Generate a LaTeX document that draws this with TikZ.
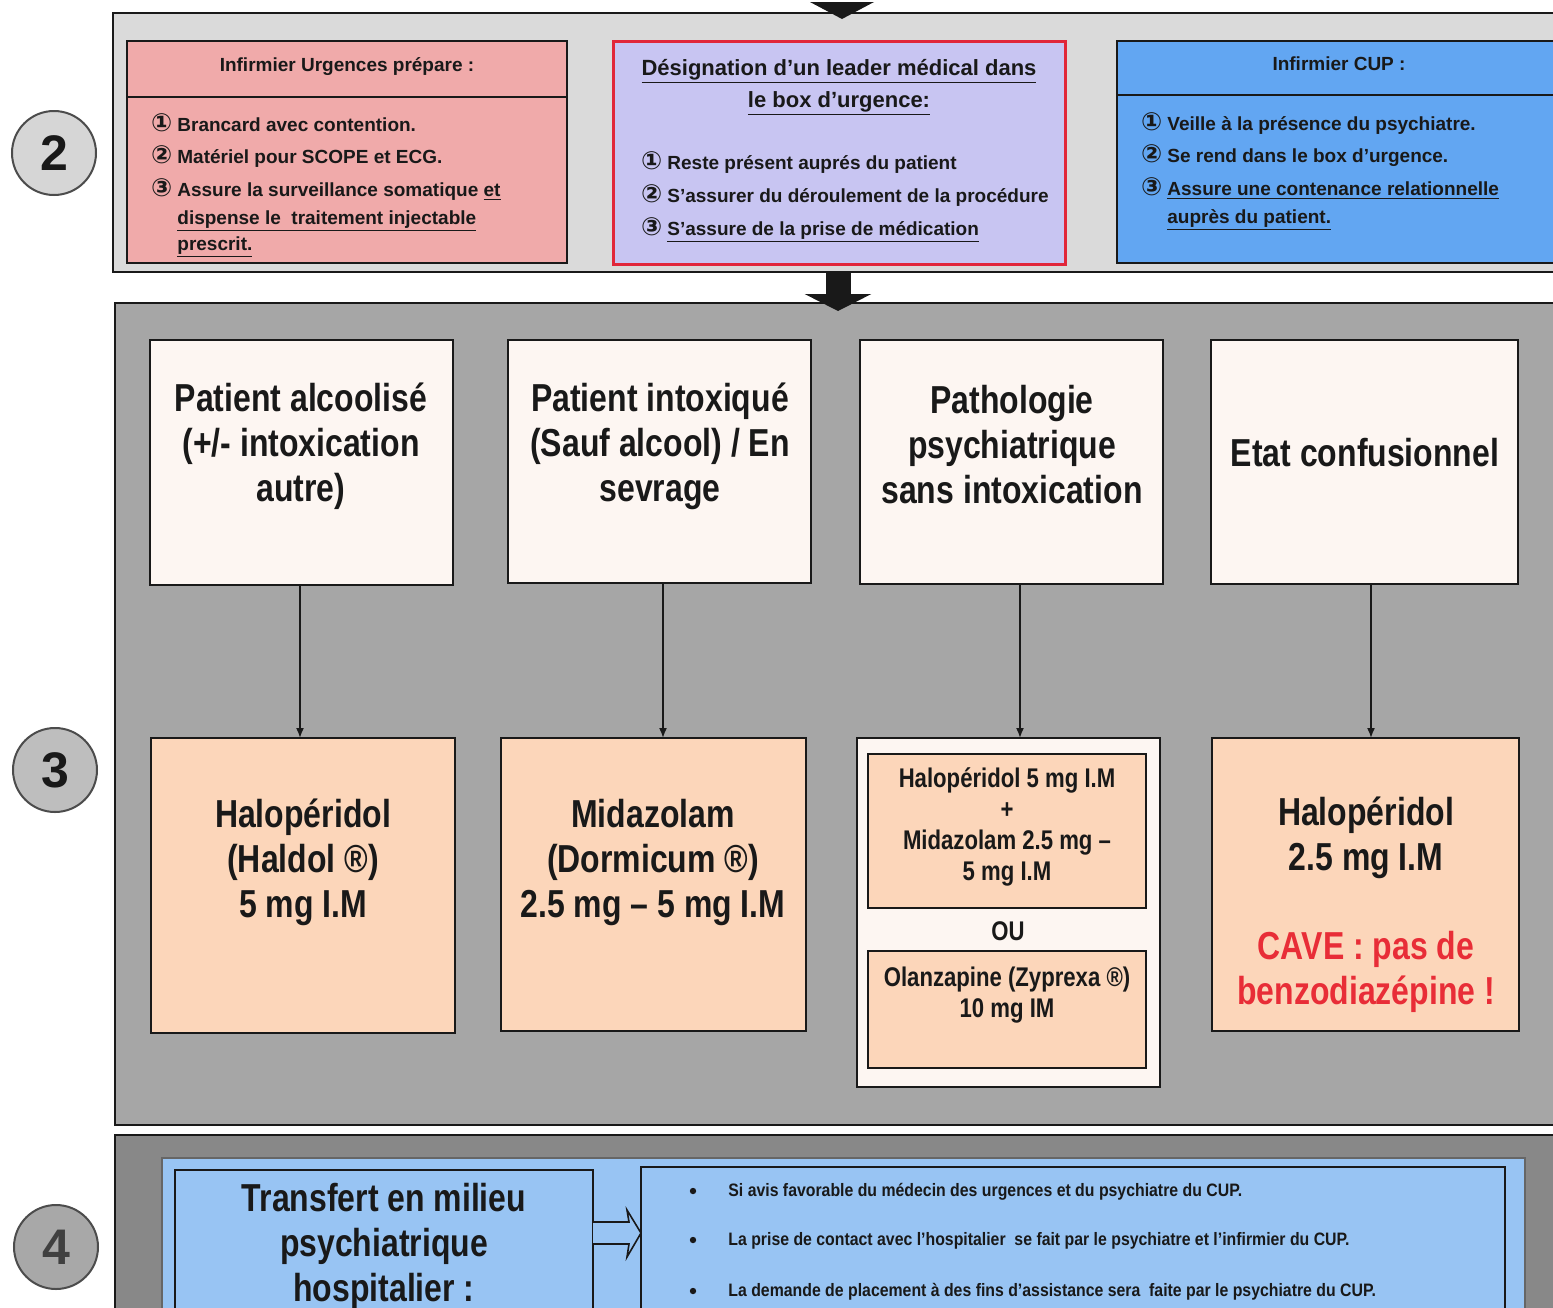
\documentclass[tikz,border=0pt]{standalone}
\usepackage{fontspec}
\setmainfont{Liberation Sans}
\newfontfamily\narrowfont[FakeStretch=0.82]{Liberation Sans}
\newfontfamily\semifont[FakeStretch=0.88]{Liberation Sans}
\newfontfamily\numfont{DejaVu Sans}
\usetikzlibrary{arrows.meta}
\definecolor{sectwo}{RGB}{218,218,218}
\definecolor{secthree}{RGB}{166,166,166}
\definecolor{secfour}{RGB}{136,136,136}
\definecolor{pinkbox}{RGB}{240,170,170}
\definecolor{lavbox}{RGB}{200,197,242}
\definecolor{redline}{RGB}{225,38,58}
\definecolor{bluebox}{RGB}{98,166,242}
\definecolor{lightblue}{RGB}{152,196,243}
\definecolor{creambox}{RGB}{253,246,242}
\definecolor{peachbox}{RGB}{252,214,186}
\definecolor{cavered}{RGB}{232,45,55}
\definecolor{ink}{RGB}{25,25,25}
\definecolor{circfill2}{RGB}{214,214,214}
\definecolor{circfill3}{RGB}{190,190,190}
\definecolor{circfill4}{RGB}{168,168,168}
\newcommand\bx[6]{\node[#6, anchor=north west, minimum width={(#4-#2)*0.5pt}, minimum height={(#5-#3)*0.5pt}, inner sep=0pt, outer sep=0pt] (#1) at (#2,#3) {};}
\newcommand\cn[1]{\llap{{\numfont\fontsize{12.5}{12.5}\selectfont #1}\hspace{2.5pt}}}
\begin{document}
\begin{tikzpicture}[x=0.5pt,y=-0.5pt,
  boxline/.style={draw=ink, line width=1pt},
  big/.style={font=\narrowfont\bfseries\fontsize{19.5}{22.5}\selectfont, align=center, text=ink, inner sep=0pt},
  med/.style={font=\narrowfont\bfseries\fontsize{13.5}{15.5}\selectfont, align=center, text=ink, inner sep=0pt},
  itm/.style={font=\bfseries\fontsize{9.5}{11}\selectfont, anchor=base west, inner sep=0pt, text=ink},
  hdr/.style={font=\bfseries\fontsize{9.5}{11}\selectfont, anchor=base, inner sep=0pt, text=ink},
  ttl/.style={font=\bfseries\fontsize{11}{13}\selectfont, anchor=base, inner sep=0pt, text=ink},
  bul/.style={font=\semifont\bfseries\fontsize{9}{10}\selectfont, anchor=base west, inner sep=0pt, text=ink},
  dot/.style={circle, fill=ink, inner sep=0pt, minimum size=3.2pt},
  num/.style={circle, draw=black!70, line width=1pt, minimum size=42pt, inner sep=0pt, font=\bfseries\fontsize{25}{25}\selectfont},
  thinarrow/.style={draw=ink, line width=0.8pt, -{Latex[length=5pt,width=4pt]}},
  fatarrow/.style={draw=ink, line width=12.5pt, -{Triangle[length=8.5pt,width=33pt]}}
]
\useasboundingbox (0,0) rectangle (1553,1307);
\clip (0,0) rectangle (1553,1307);
\fill[white] (0,0) rectangle (1553,1307);

% ---------------- Section 2 ----------------
\bx{sec2}{113}{13}{1580}{272}{boxline, fill=sectwo}
% incoming arrow head at the very top
\fill[ink] (810,2) -- (874,2) -- (842,19) -- cycle;
\bx{pink}{127}{41}{567}{263}{boxline, fill=pinkbox}
\bx{lav}{613}{41}{1065}{264}{draw=redline, line width=1.5pt, fill=lavbox}
\bx{blue}{1117}{41}{1580}{263}{boxline, fill=bluebox}
\coordinate (dp) at (0,97);
\coordinate (db) at (0,95);
\draw[boxline] (pink.west |- dp) -- (pink.east |- dp);
\draw[boxline] (blue.west |- db) -- (blue.east |- db);

\node[hdr] (ph) at (347,71) {Infirmier Urgences prépare :};
\node[itm] (p1) at (177,131) {\cn{①}Brancard avec contention.};
\node[itm] (p2) at (177,163) {\cn{②}Matériel pour SCOPE et ECG.};
\node[itm] (p3) at (177,196) {\cn{③}Assure la surveillance somatique \underline{et}};
\node[itm] (p4) at (177,224) {\underline{dispense le\ \ traitement injectable}};
\node[itm] (p5) at (177,250) {\underline{prescrit.}};

\node[ttl] (lt1) at (839,75) {\underline{Désignation d’un leader médical dans}};
\node[ttl] (lt2) at (839,107) {\underline{le box d’urgence:}};
\node[itm] (l1) at (667,169) {\cn{①}Reste présent auprés du patient};
\node[itm] (l2) at (667,202) {\cn{②}S’assurer du déroulement de la procédure};
\node[itm] (l3) at (667,235) {\cn{③}\underline{S’assure de la prise de médication}};

\node[hdr] (bh) at (1339,70) {Infirmier CUP :};
\node[itm] (b1) at (1167,130) {\cn{①}Veille à la présence du psychiatre.};
\node[itm] (b2) at (1167,162) {\cn{②}Se rend dans le box d’urgence.};
\node[itm] (b3) at (1167,195) {\cn{③}\underline{Assure une contenance relationnelle}};
\node[itm] (b4) at (1167,223) {\underline{auprès du patient.}};

\node[num, fill=circfill2, text=ink] (c2) at (54,153) {2};

% ---------------- Section 3 ----------------
\bx{sec3}{115}{303}{1580}{1125}{boxline, fill=secthree}
\coordinate (s2b) at (838,272);
\coordinate (s3t) at (838,311);
\draw[fatarrow] (s2b) -- (s3t);

\bx{A}{150}{340}{453}{585}{boxline, fill=creambox}
\bx{B}{508}{340}{811}{583}{boxline, fill=creambox}
\bx{C}{860}{340}{1163}{584}{boxline, fill=creambox}
\bx{D}{1211}{340}{1518}{584}{boxline, fill=creambox}

\bx{A2}{151}{738}{455}{1033}{boxline, fill=peachbox}
\bx{B2}{501}{738}{806}{1031}{boxline, fill=peachbox}
\bx{C2}{857}{738}{1160}{1087}{boxline, fill=creambox}
\bx{C2a}{868}{754}{1146}{908}{boxline, fill=peachbox}
\bx{C2b}{868}{951}{1146}{1068}{boxline, fill=peachbox}
\bx{D2}{1212}{738}{1519}{1031}{boxline, fill=peachbox}

\coordinate (ax) at (300,0);
\coordinate (bxx) at (663,0);
\coordinate (cx) at (1020,0);
\coordinate (dx) at (1371,0);
\draw[thinarrow] (A.south -| ax) -- (A2.north -| ax);
\draw[thinarrow] (B.south -| bxx) -- (B2.north -| bxx);
\draw[thinarrow] (C.south -| cx) -- (C2.north -| cx);
\draw[thinarrow] (D.south -| dx) -- (D2.north -| dx);

\node[big] (tA) at (301,446) {Patient alcoolisé\\(+/- intoxication\\autre)};
\node[big] (tB) at (660,446) {Patient intoxiqué\\(Sauf alcool) / En\\sevrage};
\node[big] (tC) at (1012,445) {Pathologie\\psychiatrique\\sans intoxication};
\node[big] (tD) at (1365,453) {Etat confusionnel};

\node[big] (tA2) at (303,862) {Halopéridol\\(Haldol ®)\\5 mg I.M};
\node[big] (tB2) at (653,862) {Midazolam\\(Dormicum ®)\\2.5 mg – 5 mg I.M};
\node[med] (tC2a) at (1007,827) {Halopéridol 5 mg I.M\\+\\Midazolam 2.5 mg –\\5 mg I.M};
\node[med] (tOU) at (1008,931) {OU};
\node[med] (tC2b) at (1007,995) {Olanzapine (Zyprexa ®)\\10 mg IM};
\node[big] (tD2) at (1366,838) {Halopéridol\\2.5 mg I.M};
\node[big, text=cavered] (tCave) at (1366,972) {CAVE : pas de\\benzodiazépine !};

\node[num, fill=circfill3, text=ink] (c3) at (55,770) {3};

% ---------------- Section 4 ----------------
\bx{sec4}{115}{1135}{1580}{1330}{boxline, fill=secfour}
\bx{bp}{162}{1158}{1525}{1330}{draw=black!60, line width=0.6pt, fill=lightblue}
\bx{L}{175}{1170}{593}{1330}{boxline, fill=lightblue}
\bx{R}{641}{1167}{1505}{1330}{boxline, fill=lightblue}

\coordinate (ha) at (593,1233);
\coordinate (hb) at (641,1233);
\filldraw[fill=lightblue, draw=ink, line width=0.8pt, line join=miter]
  (ha) ++(0,-11) -- ++(36,0) -- ++(-2,-12) -- (hb) -- ++(-14,24) -- ++(2,-13) -- ++(-36,0);

\node[big] (tL) at (384,1246) {Transfert en milieu\\psychiatrique\\hospitalier :};

\node[dot] (d1) at (693,1191) {};
\node[dot] (d2) at (693,1240) {};
\node[dot] (d3) at (693,1291) {};
\node[bul] (r1) at (728,1196) {Si avis favorable du médecin des urgences et du psychiatre du CUP.};
\node[bul] (r2) at (728,1245) {La prise de contact avec l’hospitalier\ \ se fait par le psychiatre et l’infirmier du CUP.};
\node[bul] (r3) at (728,1296) {La demande de placement à des fins d’assistance sera\ \ faite par le psychiatre du CUP.};

\node[num, fill=circfill4, text=black!75] (c4) at (56,1247) {4};
\end{tikzpicture}
\end{document}
